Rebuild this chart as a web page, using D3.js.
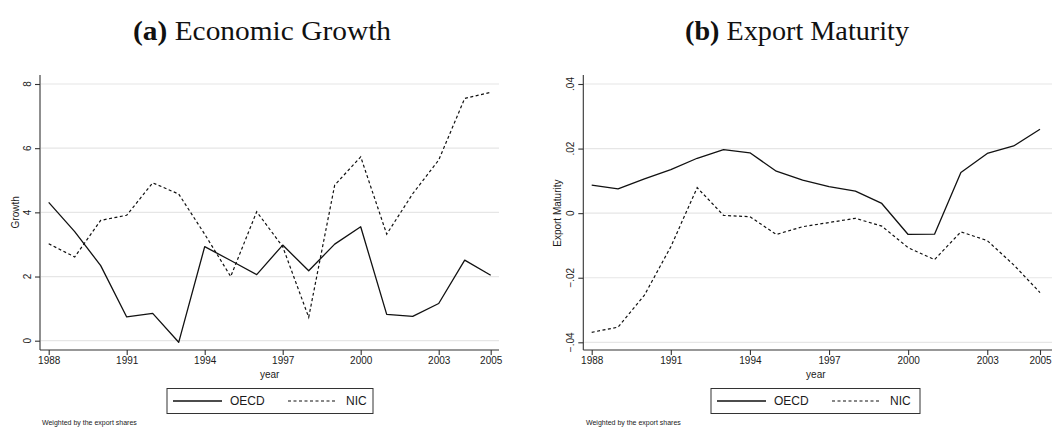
<!DOCTYPE html>
<html>
<head>
<meta charset="utf-8">
<script src="https://cdn.jsdelivr.net/npm/d3@7"></script>
<style>
  body { margin: 0; background: #fff; }
  svg { display: block; }
  text { font-family: "Liberation Sans", Arial, Helvetica, sans-serif; fill: #1a1a1a; }
  .title { font-family: "Liberation Serif", "DejaVu Serif", serif; fill: #111; }
</style>
</head>
<body>
<svg id="chart" width="1052" height="427"></svg>
<script>
// Years shared by both panels
const years = [1988, 1989, 1990, 1991, 1992, 1993, 1994, 1995, 1996,
               1997, 1998, 1999, 2000, 2001, 2002, 2003, 2004, 2005];
const yearTicks = [1988, 1991, 1994, 1997, 2000, 2003, 2005];

// Panel (a): economic growth
const growthOECD = [4.31, 3.40, 2.34, 0.74, 0.85, -0.05, 2.93, 2.50, 2.06,
                    2.98, 2.18, 3.01, 3.55, 0.82, 0.76, 1.16, 2.51, 2.04];
const growthNIC  = [3.02, 2.61, 3.75, 3.91, 4.92, 4.57, 3.32, 2.00, 4.02,
                    2.93, 0.73, 4.85, 5.73, 3.32, 4.58, 5.63, 7.55, 7.74];
const growthTicks = [0, 2, 4, 6, 8];

// Panel (b): export maturity
const maturityOECD = [0.0087, 0.0075, 0.0106, 0.0135, 0.0170, 0.0197, 0.0187, 0.0130, 0.0102,
                      0.0082, 0.0068, 0.0030, -0.0066, -0.0065, 0.0126, 0.0185, 0.0208, 0.0260];
const maturityNIC  = [-0.0369, -0.0353, -0.0254, -0.0104, 0.0079, -0.0007, -0.0011, -0.0066, -0.0042,
                      -0.0029, -0.0016, -0.0040, -0.0107, -0.0144, -0.0058, -0.0085, -0.0160, -0.0246];
const maturityTicks = [-0.04, -0.02, 0, 0.02, 0.04];
const maturityTickLabels = ["\u2212.04", "\u2212.02", "0", ".02", ".04"];

const seriesNames = ["OECD", "NIC"];
const footnote = "Weighted by the export shares";

const svg = d3.select("#chart");

const panels = [
  {
    title: "(a)", titleRest: " Economic Growth", titleX: 133, titleW: 258,
    yLabel: "Growth", oecd: growthOECD, nic: growthNIC,
    yDomain: [0, 8], yTicks: growthTicks, yFmt: d => String(d),
    axisX: 40, x0: 48.7, x1: 490.7, yTop: 84, yBot: 340.7, gridEnd: 499,
    tickLabelX: 27, yLabelX: 15,
    legend: { x: 167, w: 206 }, footX: 42
  },
  {
    title: "(b)", titleRest: " Export Maturity", titleX: 685, titleW: 224,
    yLabel: "Export Maturity", oecd: maturityOECD, nic: maturityNIC,
    yDomain: [-0.04, 0.04], yTicks: maturityTicks, yFmt: (d, i) => maturityTickLabels[i],
    axisX: 583.3, x0: 591.7, x1: 1040, yTop: 84, yBot: 342.3, gridEnd: 1052,
    tickLabelX: 570, yLabelX: 557,
    legend: { x: 711, w: 209 }, footX: 586
  }
];

const axisY = 350;
const axisColor = "#333";

panels.forEach(p => {
  const g = svg.append("g");
  const x = d3.scaleLinear().domain([1988, 2005]).range([p.x0, p.x1]);
  const y = d3.scaleLinear().domain(p.yDomain).range([p.yBot, p.yTop]);

  // Title: bold panel letter followed by regular text
  const t = g.append("text").attr("class", "title")
    .attr("x", p.titleX).attr("y", 40)
    .attr("font-size", 27)
    .attr("textLength", p.titleW).attr("lengthAdjust", "spacingAndGlyphs");
  t.append("tspan").attr("font-weight", "bold").text(p.title);
  t.append("tspan").text(p.titleRest);

  // Horizontal gridlines
  g.append("g").selectAll("line").data(p.yTicks).join("line")
    .attr("x1", p.axisX + 1).attr("x2", p.gridEnd)
    .attr("y1", d => y(d)).attr("y2", d => y(d))
    .attr("stroke", "#e6e6e6").attr("stroke-width", 1.2);

  // Y axis
  const yAxis = d3.axisLeft(y).tickValues(p.yTicks).tickSize(5).tickFormat(() => "");
  const ya = g.append("g").attr("transform", `translate(${p.axisX},0)`).call(yAxis);
  ya.select(".domain").attr("d", `M-0,75V${axisY}`);
  ya.selectAll("line, path").attr("stroke", axisColor).attr("stroke-width", 1.1);
  g.append("g").selectAll("text").data(p.yTicks).join("text")
    .attr("transform", d => `translate(${p.tickLabelX},${y(d)}) rotate(-90)`)
    .attr("text-anchor", "middle").attr("dy", "0.35em")
    .attr("font-size", 10)
    .text((d, i) => p.yFmt(d, i));
  g.append("text")
    .attr("transform", `translate(${p.yLabelX},${(p.yTop + p.yBot) / 2}) rotate(-90)`)
    .attr("text-anchor", "middle").attr("dy", "0.35em")
    .attr("font-size", 10).text(p.yLabel);

  // X axis
  const xAxis = d3.axisBottom(x).tickValues(yearTicks).tickSize(5).tickFormat(d3.format("d"));
  const xa = g.append("g").attr("transform", `translate(0,${axisY})`).call(xAxis);
  xa.select(".domain").attr("d", `M${p.axisX},0H${p.gridEnd}`);
  xa.selectAll("line, path").attr("stroke", axisColor).attr("stroke-width", 1.1);
  xa.selectAll("text").attr("font-size", 10).attr("fill", "#1a1a1a")
    .attr("font-family", "Liberation Sans, Arial, sans-serif").attr("y", 7);
  g.append("text").attr("x", (p.x0 + p.x1) / 2).attr("y", 378)
    .attr("text-anchor", "middle").attr("font-size", 10).text("year");

  // Series lines
  const line = d3.line().x((d, i) => x(years[i])).y(d => y(d));
  g.append("path").datum(p.oecd).attr("d", line)
    .attr("fill", "none").attr("stroke", "#111").attr("stroke-width", 1.3)
    .attr("stroke-linejoin", "round");
  g.append("path").datum(p.nic).attr("d", line)
    .attr("fill", "none").attr("stroke", "#111").attr("stroke-width", 1.2)
    .attr("stroke-dasharray", "3,2.5");

  // Legend
  const L = p.legend;
  const lg = g.append("g");
  lg.append("rect").attr("x", L.x).attr("y", 388.5).attr("width", L.w).attr("height", 25)
    .attr("fill", "#fff").attr("stroke", "#333").attr("stroke-width", 1);
  const cy = 401;
  const sx = L.x + 6;
  lg.append("line").attr("x1", sx).attr("x2", sx + 49).attr("y1", cy).attr("y2", cy)
    .attr("stroke", "#111").attr("stroke-width", 1.3);
  lg.append("text").attr("x", sx + 57).attr("y", cy).attr("dy", "0.36em")
    .attr("font-size", 12).text(seriesNames[0]);
  lg.append("line").attr("x1", sx + 115).attr("x2", sx + 164).attr("y1", cy).attr("y2", cy)
    .attr("stroke", "#111").attr("stroke-width", 1.2).attr("stroke-dasharray", "3,2.5");
  lg.append("text").attr("x", sx + 173).attr("y", cy).attr("dy", "0.36em")
    .attr("font-size", 12).text(seriesNames[1]);

  // Footnote
  g.append("text").attr("x", p.footX).attr("y", 425)
    .attr("font-size", 7).text(footnote);
});
</script>
</body>
</html>
